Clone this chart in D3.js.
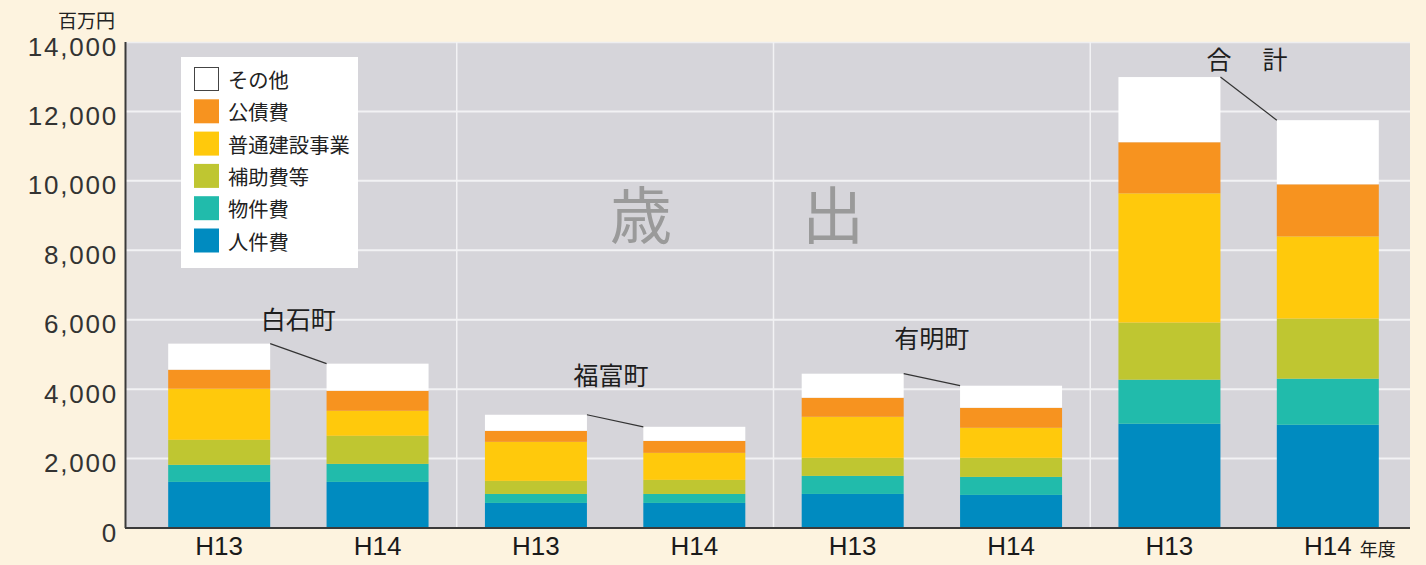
<!DOCTYPE html>
<html><head><meta charset="utf-8">
<script src="https://cdn.jsdelivr.net/npm/d3@7"></script>
<style>
html,body{margin:0;padding:0;background:#fdf3df;}
svg{display:block;}
</style></head>
<body>
<svg id="chart" width="1426" height="565"></svg>
<script>
// ---- data ----
const categories = ["H13","H14","H13","H14","H13","H14","H13","H14"];
const groups = ["白石町","福富町","有明町","合　計"];
const seriesNames = ["人件費","物件費","補助費等","普通建設事業","公債費","その他"];
const personnel   = [1328,1328,722,722,981,953,3002,2973];
const goods       = [491,519,259,259,520,519,1270,1328];
const subsidies   = [721,809,376,405,520,549,1645,1732];
const construction= [1472,721,1125,779,1183,866,3724,2367];
const debt        = [549,578,318,346,549,577,1472,1501];
const others      = [750,779,462,404,692,635,1877,1847];
const yTicks = [0,2000,4000,6000,8000,10000,12000,14000];
const unitLabel = "百万円";
const yearLabel = "年度";
const titleChars = ["歳","出"];

// ---- layout ----
const colors = ["#008bc0","#21bbab","#bfc631","#ffc90c","#f7931f","#ffffff"];
const plot = {left:126, right:1410, top:42, bottom:528};
const labelRise = [15, 30, 26, 8];
const labelShift = [0, -4, 0, 0];
const jpFont = "'Noto Sans CJK JP','Noto Sans',sans-serif";
const numFont = "'Liberation Sans',Arial,sans-serif";

const svg = d3.select("#chart");
const seriesValues = [personnel, goods, subsidies, construction, debt, others];
const rows = categories.map((c,i)=>{
  const r = {idx:i, cat:c};
  seriesNames.forEach((s,k)=> r[s] = seriesValues[k][i]);
  return r;
});
const stack = d3.stack().keys(seriesNames)(rows);

const x = d3.scaleBand().domain(d3.range(categories.length))
  .range([140, 1407]).paddingInner(0.356).paddingOuter(0.178);
const y = d3.scaleLinear().domain([0,14000]).range([plot.bottom, plot.top]);

// plot background
svg.append("rect").attr("x",plot.left).attr("y",plot.top)
  .attr("width",plot.right-plot.left).attr("height",plot.bottom-plot.top)
  .attr("fill","#d6d5da");
svg.append("line").attr("x1",plot.left).attr("x2",plot.right)
  .attr("y1",plot.top+0.5).attr("y2",plot.top+0.5)
  .attr("stroke","#eeeef0").attr("stroke-width",1.5);

// gridlines
svg.append("g").selectAll("line").data(yTicks.filter(t=>t>0 && t<14000)).join("line")
  .attr("x1",plot.left).attr("x2",plot.right)
  .attr("y1",d=>y(d)).attr("y2",d=>y(d))
  .attr("stroke","#f2f2f4").attr("stroke-width",2);

// group separators
const step = x.step();
for(let g=1; g<groups.length; g++){
  const bx = x(2*g) - (step - x.bandwidth())/2;
  svg.append("line").attr("x1",bx).attr("x2",bx)
    .attr("y1",plot.top).attr("y2",plot.bottom)
    .attr("stroke","#f2f2f4").attr("stroke-width",1.5);
}

// bars
svg.append("g").selectAll("g").data(stack).join("g")
  .attr("fill",(d,i)=>colors[i])
  .selectAll("rect").data(d=>d).join("rect")
  .attr("x",d=>x(d.data.idx))
  .attr("y",d=>y(d[1]))
  .attr("width",x.bandwidth())
  .attr("height",d=>y(d[0])-y(d[1]));

// connectors + group labels
const totals = rows.map(r=>d3.sum(seriesNames,s=>r[s]));
groups.forEach((g,gi)=>{
  const a = 2*gi, b = 2*gi+1;
  const x1 = x(a)+x.bandwidth(), y1 = y(totals[a]);
  const x2 = x(b), y2 = y(totals[b]);
  svg.append("line").attr("x1",x1).attr("y1",y1).attr("x2",x2).attr("y2",y2)
    .attr("stroke","#333").attr("stroke-width",1.2);
  svg.append("text").attr("x",(x1+x2)/2+labelShift[gi]).attr("y",y1-labelRise[gi])
    .attr("text-anchor","middle").attr("font-family",jpFont)
    .attr("font-size",25).attr("fill","#1e1e1e")
    .attr("letter-spacing", gi===3 ? 3 : 0)
    .text(g);
});

// big title
const titleX = [641, 833];
titleChars.forEach((c,i)=>{
  svg.append("text").attr("x",titleX[i]).attr("y",212)
    .attr("text-anchor","middle").attr("dominant-baseline","central")
    .attr("font-family",jpFont).attr("font-size",62).attr("fill","#9a9a9a")
    .text(c);
});

// axes lines
svg.append("line").attr("x1",plot.left-0.5).attr("x2",plot.left-0.5)
  .attr("y1",plot.top).attr("y2",plot.bottom).attr("stroke","#3a3a3a").attr("stroke-width",2);
svg.append("line").attr("x1",plot.left-1).attr("x2",plot.right)
  .attr("y1",plot.bottom).attr("y2",plot.bottom).attr("stroke","#3a3a3a").attr("stroke-width",2);

// y tick labels
const yAxis = d3.axisLeft(y).tickValues(yTicks).tickSize(0).tickPadding(0)
  .tickFormat(d3.format(","));
const yg = svg.append("g").attr("transform",`translate(118,0)`).call(yAxis);
yg.select(".domain").remove();
yg.selectAll("text").attr("font-family",numFont).attr("font-size",26)
  .attr("letter-spacing",1.8).attr("fill","#333").attr("dy","0.5em");

// x tick labels
const xAxis = d3.axisBottom(x).tickSize(0).tickPadding(0).tickFormat(i=>categories[i]);
const xg = svg.append("g").attr("transform",`translate(0,537)`).call(xAxis);
xg.select(".domain").remove();
xg.selectAll("text").attr("font-family",numFont).attr("font-size",26)
  .attr("fill","#1a1a1a").attr("dy","0.71em");

// year label
const lastCx = x(categories.length-1)+x.bandwidth()/2;
svg.append("text").attr("x",lastCx+32).attr("y",556)
  .attr("font-family",jpFont).attr("font-size",18).attr("fill","#1a1a1a").text(yearLabel);

// unit label
svg.append("text").attr("x",115).attr("y",28).attr("text-anchor","end")
  .attr("font-family",jpFont).attr("font-size",19).attr("fill","#222").text(unitLabel);

// legend
const lg = svg.append("g");
lg.append("rect").attr("x",181).attr("y",57).attr("width",177).attr("height",211).attr("fill","#fff");
const legendOrder = seriesNames.map((s,i)=>({name:s, color:colors[i]})).reverse();
legendOrder.forEach((d,i)=>{
  const ry = 67 + i*32.3;
  lg.append("rect").attr("x",i===0?194.5:194).attr("y",i===0?ry+0.5:ry)
    .attr("width",i===0?24:25).attr("height",i===0?23:24)
    .attr("fill",d.color)
    .attr("stroke",i===0?"#444":"none").attr("stroke-width",1);
  lg.append("text").attr("x",228).attr("y",ry+21)
    .attr("font-family",jpFont).attr("font-size",20.3).attr("fill","#222").text(d.name);
});
</script>
</body></html>
